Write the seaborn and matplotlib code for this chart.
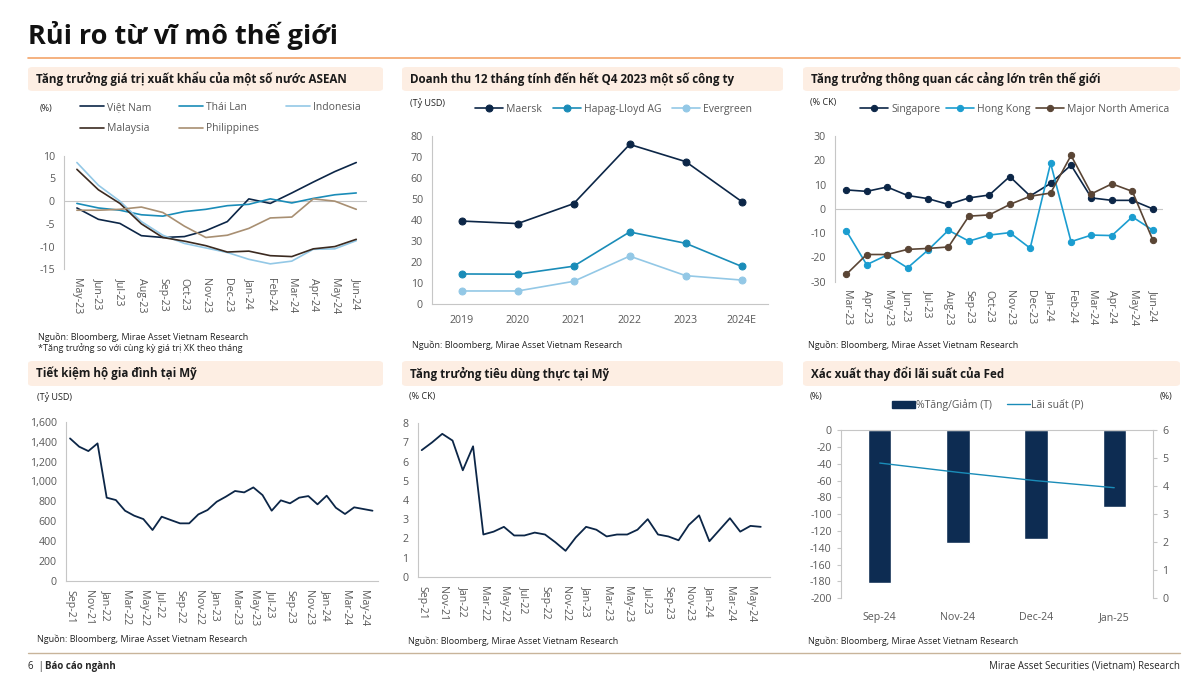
import numpy as np
import pandas as pd
import matplotlib
matplotlib.use("Agg")
import matplotlib.pyplot as plt
import matplotlib.patches as mpatches
from matplotlib.lines import Line2D
from matplotlib.ticker import FuncFormatter
import seaborn as sns

# ---- data ----
asean_months = ["May-23", "Jun-23", "Jul-23", "Aug-23", "Sep-23", "Oct-23", "Nov-23",
                "Dec-23", "Jan-24", "Feb-24", "Mar-24", "Apr-24", "May-24", "Jun-24"]
vietnam = [-1.5, -4.0, -4.9, -7.6, -8.0, -7.8, -6.5, -4.5, 0.5, -0.5, 1.8, 4.2, 6.5, 8.5]
thailand = [-0.5, -1.5, -2.0, -3.0, -3.3, -2.3, -1.8, -1.0, -0.7, 0.5, -0.4, 0.6, 1.4, 1.8]
indonesia = [8.5, 3.5, 0.0, -4.5, -7.5, -9.3, -10.3, -11.3, -12.8, -13.8, -13.2, -10.6, -10.5, -8.7]
malaysia = [7.0, 2.5, -0.5, -5.0, -8.0, -8.8, -9.8, -11.2, -11.0, -12.0, -12.2, -10.5, -10.0, -8.4]
philippines = [-2.0, -2.0, -1.8, -1.3, -2.5, -5.5, -8.0, -7.5, -6.0, -3.7, -3.5, 0.5, 0.0, -1.8]

years = ["2019", "2020", "2021", "2022", "2023", "2024E"]
maersk = [39.5, 38.3, 47.8, 76.0, 67.8, 48.8]
hapag = [14.3, 14.2, 18.0, 34.3, 28.9, 17.9]
evergreen = [6.2, 6.2, 10.8, 22.8, 13.5, 11.4]

port_months = ["Mar-23", "Apr-23", "May-23", "Jun-23", "Jul-23", "Aug-23", "Sep-23", "Oct-23",
               "Nov-23", "Dec-23", "Jan-24", "Feb-24", "Mar-24", "Apr-24", "May-24", "Jun-24"]
singapore = [7.8, 7.2, 9.0, 5.5, 4.2, 1.8, 4.5, 5.7, 13.3, 5.3, 10.5, 18.0, 4.5, 3.5, 3.5, 0.0]
hongkong = [-9.0, -23.0, -19.0, -24.3, -17.0, -8.8, -13.3, -10.8, -9.8, -16.2, 18.8, -13.5,
            -10.8, -11.0, -3.3, -8.8]
north_america = [-27.0, -18.8, -18.8, -16.7, -16.3, -15.7, -3.0, -2.5, 1.8, 5.2, 6.5, 22.0,
                 6.2, 10.3, 7.2, -12.8]

# monthly Sep-21 .. Jun-24
us_labels = ["Sep-21", "Nov-21", "Jan-22", "Mar-22", "May-22", "Jul-22", "Sep-22", "Nov-22",
             "Jan-23", "Mar-23", "May-23", "Jul-23", "Sep-23", "Nov-23", "Jan-24", "Mar-24", "May-24"]
savings = [1432, 1349, 1305, 1382, 837, 813, 706, 656, 622, 512, 646, 612, 579, 579, 669, 713,
           796, 847, 904, 890, 940, 863, 706, 810, 780, 837, 853, 770, 857, 736, 673, 740, 723, 706]
consumption = [6.6, 7.0, 7.45, 7.1, 5.55, 6.8, 2.2, 2.35, 2.6, 2.15, 2.15, 2.3, 2.2, 1.8, 1.35,
               2.05, 2.6, 2.45, 2.1, 2.2, 2.2, 2.45, 3.0, 2.2, 2.1, 1.9, 2.7, 3.2, 1.85, 2.45,
               3.05, 2.35, 2.65, 2.6]

fed_months = ["Sep-24", "Nov-24", "Dec-24", "Jan-25"]
fed_change = [-182, -134, -129, -91]
fed_rate = [4.83, 4.5, 4.2, 3.95]

# ---- colours ----
NAVY = "#0c2647"
TEAL = "#1a8cb8"
LIGHT = "#93c8e6"
MALAY = "#3b2a20"
PHIL = "#a88f72"
HK = "#1b9dd0"
NA = "#5a4535"
BAR = "#0d2c52"
GRAY_TXT = "#595959"
AXIS = "#c6c6c6"

sns.set_style("white")
plt.rcParams["font.family"] = ["Open Sans", "DejaVu Sans"]
plt.rcParams["axes.unicode_minus"] = False

W, H = 1200, 681
fig = plt.figure(figsize=(12, 6.81), dpi=100)


def add_ax(l, t, r, b):
    return fig.add_axes([l / W, 1 - b / H, (r - l) / W, (b - t) / H])


def ftext(x, y, s, **kw):
    kw.setdefault("va", "center")
    fig.text(x / W, 1 - y / H, s, **kw)


def header(l, t, r, b, s):
    box = mpatches.FancyBboxPatch((l / W, 1 - b / H), (r - l) / W, (b - t) / H,
                                  boxstyle="round,pad=0,rounding_size=0.004",
                                  transform=fig.transFigure, facecolor="#fdeee3",
                                  edgecolor="none", zorder=0)
    fig.patches.append(box)
    ftext(l + 8, (t + b) / 2, s, fontsize=8.4, fontweight="bold", color="#1a1a1a")


def style(ax):
    for s in ax.spines.values():
        s.set_color(AXIS)
        s.set_linewidth(0.8)
    ax.tick_params(colors=AXIS, labelcolor=GRAY_TXT, labelsize=7.7, length=3, width=0.8)
    ax.grid(False)
    ax.set_xlabel("")
    ax.set_ylabel("")
    ax.patch.set_alpha(0)


# ---- page title / rules / footer ----
ftext(28, 35, "Rủi ro từ vĩ mô thế giới", fontsize=19.5, fontweight="bold", color="#111111")
fig.add_artist(Line2D([28 / W, 1180 / W], [1 - 58 / H] * 2, color="#f4a46a", lw=1.2))
fig.add_artist(Line2D([28 / W, 1180 / W], [1 - 653 / H] * 2, color="#c8b49a", lw=1.0))
ftext(28, 666, "6  |", fontsize=7)
ftext(45, 666, "Báo cáo ngành", fontsize=7, fontweight="bold")
ftext(1180, 666, "Mirae Asset Securities (Vietnam) Research", fontsize=7, ha="right")

header(28, 67, 383, 91, "Tăng trưởng giá trị xuất khẩu của một số nước ASEAN")
header(402, 67, 783, 91, "Doanh thu 12 tháng tính đến hết Q4 2023 một số công ty")
header(803, 67, 1180, 91, "Tăng trưởng thông quan các cảng lớn trên thế giới")
header(28, 361, 383, 386, "Tiết kiệm hộ gia đình tại Mỹ")
header(402, 361, 783, 386, "Tăng trưởng tiêu dùng thực tại Mỹ")
header(803, 361, 1180, 386, "Xác xuất thay đổi lãi suất của Fed")

src = "Nguồn: Bloomberg, Mirae Asset Vietnam Research"
small = dict(fontsize=6.5, color="#222222")

# ---- panel 1: ASEAN exports ----
ax1 = add_ax(64, 155.7, 367, 269.3)
x1 = np.arange(len(asean_months))
for vals, col, lab in [(vietnam, NAVY, "Việt Nam"), (thailand, TEAL, "Thái Lan"),
                       (indonesia, LIGHT, "Indonesia"), (malaysia, MALAY, "Malaysia"),
                       (philippines, PHIL, "Philippines")]:
    sns.lineplot(x=x1, y=vals, ax=ax1, color=col, linewidth=1.2, label=lab, legend=False)
ax1.axhline(0, color=AXIS, lw=0.8, zorder=0)
ax1.set_ylim(-15, 10)
ax1.set_yticks([10, 5, 0, -5, -10, -15])
ax1.set_xlim(-0.6, 13.5)
ax1.set_xticks(x1, asean_months, rotation=-90, va="top", ha="center")
style(ax1)
ax1.spines[["top", "right", "bottom"]].set_visible(False)
ax1.tick_params(axis="x", length=0, pad=6)
h, l = ax1.get_legend_handles_labels()
order = [0, 3, 1, 4, 2]
fig.legend([h[i] for i in order], [l[i] for i in order], ncol=3, loc="upper left",
           bbox_to_anchor=(80 / W, 1 - 102 / H), frameon=False, fontsize=7.5,
           handlelength=2.3, handletextpad=0.3, columnspacing=2.6, labelspacing=1.0,
           borderpad=0, borderaxespad=0, labelcolor=GRAY_TXT)
ftext(40, 109, "(%)", **small)
ftext(38, 337, src, **small)
ftext(38, 348, "*Tăng trưởng so với cùng kỳ giá trị XK theo tháng", **small)

# ---- panel 2: shipping revenue ----
ax2 = add_ax(432, 136, 768, 304)
x2 = np.arange(len(years))
for vals, col, lab in [(maersk, NAVY, "Maersk"), (hapag, TEAL, "Hapag-Lloyd AG"),
                       (evergreen, LIGHT, "Evergreen")]:
    sns.lineplot(x=x2, y=vals, ax=ax2, color=col, linewidth=1.2, marker="o", markersize=5,
                 markeredgecolor=col, label=lab, legend=False)
ax2.set_ylim(0, 80)
ax2.set_yticks(range(0, 81, 10))
ax2.set_xlim(-0.53, 5.47)
ax2.set_xticks(x2, years)
style(ax2)
ax2.spines[["top", "right"]].set_visible(False)
ax2.tick_params(axis="x", length=0, pad=8)
ax2.legend(ncol=3, loc="upper left", bbox_to_anchor=(475 / W, 1 - 104 / H),
           bbox_transform=fig.transFigure, frameon=False, fontsize=7.5, handlelength=2.7,
           handletextpad=0.3, columnspacing=1.0, borderpad=0, borderaxespad=0,
           labelcolor=GRAY_TXT)
ftext(410, 103, "(Tỷ USD)", **small)
ftext(412, 345, src, **small)

# ---- panel 3: port throughput ----
ax3 = add_ax(835, 136, 1163, 281.7)
x3 = np.arange(len(port_months))
for vals, col, lab in [(singapore, NAVY, "Singapore"), (hongkong, HK, "Hong Kong"),
                       (north_america, NA, "Major North America")]:
    sns.lineplot(x=x3, y=vals, ax=ax3, color=col, linewidth=1.2, marker="o", markersize=4.5,
                 markeredgecolor=col, label=lab, legend=False)
ax3.axhline(0, color=AXIS, lw=0.8, zorder=0)
ax3.set_ylim(-30, 30)
ax3.set_yticks(range(-30, 31, 10))
ax3.set_xlim(-0.55, 15.5)
ax3.set_xticks(x3, port_months, rotation=-90, va="top", ha="center")
style(ax3)
ax3.spines[["top", "right", "bottom"]].set_visible(False)
ax3.tick_params(axis="x", length=0, pad=6)
ax3.legend(ncol=3, loc="upper left", bbox_to_anchor=(860 / W, 1 - 104 / H),
           bbox_transform=fig.transFigure, frameon=False, fontsize=7.5, handlelength=2.7,
           handletextpad=0.3, columnspacing=0.5, borderpad=0, borderaxespad=0,
           labelcolor=GRAY_TXT)
ftext(810, 103, "(% CK)", **small)
ftext(808, 345, src, **small)

# ---- panel 4: US household savings ----
ax4 = add_ax(66, 421.7, 378, 581)
x4 = np.arange(len(savings))
sns.lineplot(x=x4, y=savings, ax=ax4, color=NAVY, linewidth=1.3)
ax4.set_ylim(0, 1600)
ax4.set_yticks(range(0, 1601, 200))
ax4.yaxis.set_major_formatter(FuncFormatter(lambda v, p: f"{v:,.0f}"))
ax4.set_xlim(-0.44, 33.6)
ax4.set_xticks(np.arange(0, len(savings), 2), us_labels, rotation=-90, va="top", ha="center")
style(ax4)
ax4.spines[["top", "right"]].set_visible(False)
ftext(37, 397, "(Tỷ USD)", **small)
ftext(37, 639, src, **small)

# ---- panel 5: US real consumption ----
ax5 = add_ax(417.7, 423.3, 770, 576.7)
x5 = np.arange(len(consumption))
sns.lineplot(x=x5, y=consumption, ax=ax5, color=NAVY, linewidth=1.3)
ax5.set_ylim(0, 8)
ax5.set_yticks(range(0, 9))
ax5.set_xlim(-0.39, 33.9)
ax5.set_xticks(np.arange(0, len(consumption), 2), us_labels, rotation=-90, va="top",
               ha="center")
style(ax5)
ax5.spines[["top", "right"]].set_visible(False)
ftext(409, 397, "(% CK)", **small)
ftext(408, 641, src, **small)

# ---- panel 6: Fed rate probabilities ----
ax6 = add_ax(840.7, 430.3, 1153.3, 598.3)
sns.barplot(x=fed_months, y=fed_change, ax=ax6, color=BAR, saturation=1, width=0.3)
ax6.set_ylim(-200, 0)
ax6.set_yticks(range(-200, 1, 20))
ax6.set_xlim(-0.5, 3.5)
style(ax6)
ax6.spines["bottom"].set_visible(False)
ax6.spines["right"].set_visible(False)
ax6.tick_params(axis="x", length=0, pad=10)
ax6r = ax6.twinx()
sns.lineplot(x=np.arange(len(fed_rate)), y=fed_rate, ax=ax6r, color=TEAL, linewidth=1.0)
ax6r.set_ylim(0, 6)
ax6r.set_yticks(range(0, 7))
ax6r.set_xlim(-0.5, 3.5)
style(ax6r)
ax6r.spines[["left", "bottom", "top"]].set_visible(False)
fig.legend([mpatches.Patch(color=BAR), Line2D([], [], color=TEAL, lw=1.0)],
           ["%Tăng/Giảm (T)", "Lãi suất (P)"], ncol=2, loc="upper left",
           bbox_to_anchor=(892 / W, 1 - 399 / H), frameon=False, fontsize=7.5,
           handlelength=2.25, handletextpad=0.1, columnspacing=1.4, borderpad=0,
           borderaxespad=0, labelcolor=GRAY_TXT)
ftext(810, 397, "(%)", **small)
ftext(1160, 397, "(%)", **small)
ftext(808, 641, src, **small)

fig.savefig("out.png", dpi=100)
